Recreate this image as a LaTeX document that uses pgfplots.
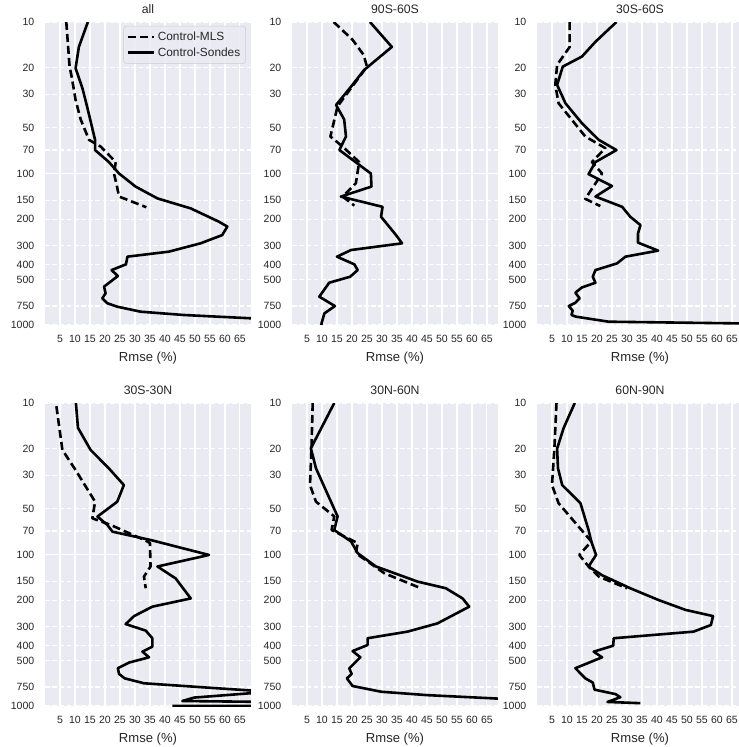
\documentclass[border=0pt]{standalone}
\usepackage{pgfplots}
\pgfplotsset{compat=1.18}
\usepackage{fontspec}
\setmainfont{Liberation Sans}
\definecolor{bgc}{HTML}{EAEAF2}
\definecolor{txt}{HTML}{262626}
\definecolor{legedge}{HTML}{CCCCCC}
\pgfplotsset{legend image code/.code={\draw[#1] (0cm,0cm) -- (0.69cm,0cm);}}
\pgfplotsset{
 myaxis/.style={
  anchor=south west, scale only axis, width=154.5pt, height=227.25pt,
  xmin=0, xmax=68.7, ymin=10, ymax=1000, y dir=reverse,
  axis background/.style={fill=bgc},
  axis line style={draw=none},
  major tick length=0pt, minor tick length=0pt,
  xtick={5,10,...,65},
  xticklabels={5,10,15,20,25,30,35,40,45,50,55,60,65},
  ytick={10,20,30,50,70,100,150,200,300,400,500,750,1000},
  yticklabels={10,20,30,50,70,100,150,200,300,400,500,750,1000},
  xmajorgrids, ymajorgrids,
  x grid style={white, line width=0.9pt},
  y grid style={white, line width=0.9pt, dash pattern=on 3.6pt off 1.8pt},
  ticklabel style={font=\fontsize{7.9}{9}\selectfont, text=txt},
  yticklabel style={xshift=-4.5pt},
  xticklabel style={yshift=-4pt},
  title style={font=\fontsize{9.2}{11}\selectfont, text=txt, yshift=-3pt},
  label style={font=\fontsize{9.8}{11}\selectfont, text=txt},
  xlabel={Rmse (\%)},
 },
 sondes/.style={black, line width=1.95pt, line join=round, mark=none},
 mls/.style={black, line width=1.95pt, line join=round, mark=none, dash pattern=on 6pt off 3pt},
 solidgrid/.style={white, line width=0.9pt, mark=none, forget plot},
}
\begin{document}
\begin{tikzpicture}
% ---------------- all
\begin{semilogyaxis}[myaxis, at={(33.75pt,316.5pt)}, title={all},
  legend style={at={(0.975,0.987)}, anchor=north east, draw=legedge, fill=bgc,
    fill opacity=0.85, text opacity=1,
    rounded corners=2pt, font=\fontsize{8.9}{10}\selectfont, text=txt,
    inner sep=2pt, row sep=0pt},
  legend cell align=left]
\addplot[solidgrid] coordinates {(0,100)(68.7,100)};
\addplot[mls] coordinates {(7.1,10)(8.2,19.7)(8.9,23)(10.2,32.7)(11.9,44)(14.7,60)(18.6,66.5)(23.6,84)(23,100)(23.9,119)(24.7,142)(33.8,167)};
\addlegendentry{Control-MLS}
\addplot[sondes] coordinates {(14.3,10)(11.3,14.6)(10.2,20.2)(12.5,27.4)(14.3,38)(16.7,60)(16.7,70)(21.3,84)(24.7,100)(30.2,122)(37.5,146)(48.6,170)(58,208)(60.8,224)(59.1,255)(51.9,289)(41.3,328)(27.5,354)(27,398)(22.2,434)(24.3,475)(19.7,558)(20.2,618)(19.1,667)(20.8,719)(24.1,757)(31.9,817)(46.3,859)(68.6,903)(114,1000)};
\addlegendentry{Control-Sondes}
\end{semilogyaxis}
% ---------------- 90S-60S
\begin{semilogyaxis}[myaxis, at={(219pt,316.5pt)}, title={90S-60S}]
\addplot[solidgrid] coordinates {(0,100)(68.7,100)};
\addplot[mls] coordinates {(13.9,10)(20.2,13.1)(23.9,16.5)(25,19.7)(18,30.3)(15.2,36)(12.8,57)(16.9,66.5)(22.4,84)(21.3,116)(16.9,142)(20.8,163)};
\addplot[sondes] coordinates {(26,10)(33.3,14.6)(24.1,20.7)(19.7,26.7)(14.7,35.3)(17.4,44)(18,57)(15.8,70)(26.3,100)(26.5,122)(16.3,142)(30.2,166)(29.7,193)(34.7,255)(36.7,289)(19.7,320)(15,354)(20.8,398)(21.9,434)(19.4,480)(12.4,526)(9.1,650)(14.3,750)(10.8,838)(9.9,966)(9.8,1000)};
\end{semilogyaxis}
% ---------------- 30S-60S
\begin{semilogyaxis}[myaxis, at={(402.75pt,316.5pt)}, title={30S-60S}]
\addplot[solidgrid] coordinates {(0,100)(68.7,100)};
\addplot[mls] coordinates {(10.9,10)(10.9,14.6)(6.7,19.2)(6.1,26)(7.2,34.4)(16.1,57)(22.8,68)(18.3,84)(21.7,100)(16.1,147)(21.1,164)};
\addplot[sondes] coordinates {(26.5,10)(19.5,13.5)(15,16.9)(8.6,19.7)(6.7,26)(9.5,34.4)(15,46.6)(20.6,60)(26.5,70)(19.5,84)(17.2,101)(25,121)(19.5,142)(28.4,166)(31.1,193)(34.5,219)(33.7,248)(33.7,286)(40.4,323)(29.5,354)(26.7,392)(19.5,434)(18.6,480)(19.5,526)(15,565)(12.8,612)(14.2,667)(12.8,713)(10.6,750)(11.9,805)(11.5,859)(13,881)(23.9,951)(65.6,975)(110,1000)};
\end{semilogyaxis}
% ---------------- 30S-30N
\begin{semilogyaxis}[myaxis, at={(33.75pt,30.75pt)}, title={30S-30N}]
\addplot[solidgrid] coordinates {(0,100)(68.7,100)};
\addplot[mls] coordinates {(3.8,10.5)(5.8,20.4)(10.2,27.7)(16.7,44.8)(15.8,57.7)(21.9,63.8)(33.6,81)(35,84)(35.2,120)(33,140)(33.6,167)};
\addplot[sondes] coordinates {(10.3,10)(11,14.6)(15.2,20.4)(21.3,27)(26.3,34.8)(24.1,44.8)(17.5,56.2)(20.8,63.8)(22.5,70.7)(35.2,80.2)(54.7,100.7)(37.5,120)(43.6,144)(48.6,195)(35.8,221)(29.7,255)(26.9,288)(33.6,318)(35.8,357)(35.8,406)(32.5,438)(34.7,477)(28,517)(24.3,563)(24.7,615)(26.6,657)(33,708)(57.5,764)(75,805)(49.7,880)(45.8,927)(200,1000)(42.5,1000)};
\end{semilogyaxis}
% ---------------- 30N-60N
\begin{semilogyaxis}[myaxis, at={(219pt,30.75pt)}, title={30N-60N}]
\addplot[solidgrid] coordinates {(0,100)(68.7,100)};
\addplot[mls] coordinates {(6.9,10)(6.5,20)(6,34.8)(8,44.8)(14.1,56)(13.2,69)(21.9,84)(21.3,98)(30.8,133)(43,167)};
\addplot[sondes] coordinates {(14.1,10)(6.3,19.9)(8,27)(15.2,56)(14.1,69)(19.7,82)(21.9,98)(28,120)(41.9,151)(51.3,167)(56.9,195)(59.1,221)(48.5,285)(38.5,323)(25.2,357)(25.2,396)(20.2,434)(22.8,477)(20.8,522)(19.1,564)(19.9,615)(18.3,657)(20.2,738)(29.7,805)(45.2,848)(67.4,891)(110,1000)};
\end{semilogyaxis}
% ---------------- 60N-90N
\begin{semilogyaxis}[myaxis, at={(402.75pt,30.75pt)}, title={60N-90N}]
\addplot[solidgrid] coordinates {(0,100)(68.7,100)};
\addplot[mls] coordinates {(6.5,10)(5.8,20)(5,34.8)(7.2,45.9)(18.1,82)(14.1,100.7)(17.2,120)(20.6,140)(30,167)};
\addplot[sondes] coordinates {(12.6,10)(8.9,14.6)(6.7,20)(7,27)(8.4,34.8)(14.5,45.9)(17.2,69)(18.1,82)(19.7,100.7)(17.2,120)(21.7,137)(31.1,167)(40.6,200)(49.5,232)(58.7,255)(58,292)(52.2,323)(25.6,357)(25.4,400)(18.9,438)(21.7,477)(12.8,563)(16.1,657)(18.6,700)(19.2,780)(26.2,835)(27.8,875)(23.5,940)(34.5,958)};
\end{semilogyaxis}
\pgfresetboundingbox
\path (0,0) rectangle (554.25pt,560.25pt);
\end{tikzpicture}
\end{document}
